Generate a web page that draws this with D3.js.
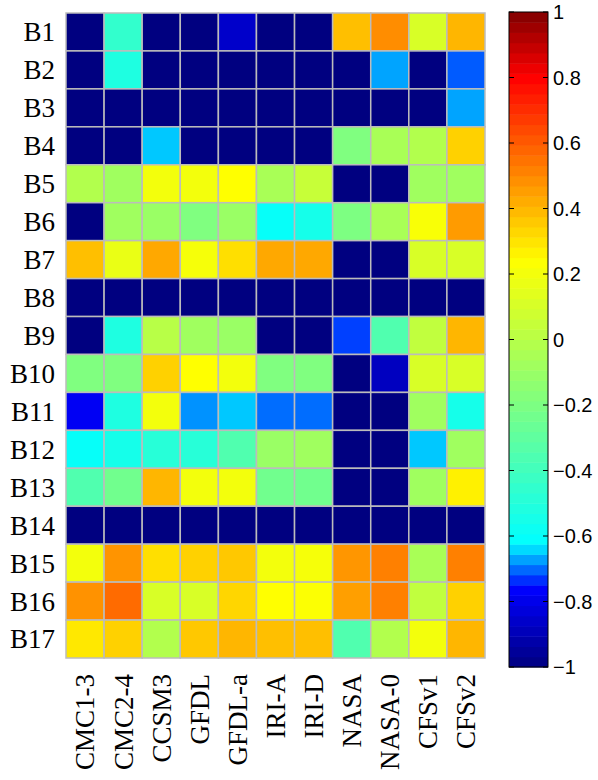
<!DOCTYPE html>
<html><head><meta charset="utf-8">
<script src="https://cdn.jsdelivr.net/npm/d3@7"></script>
<style>body{margin:0;background:#fff}svg{display:block}</style>
</head><body>
<svg id="chart" width="598" height="780"></svg>
<script>
const rowLabels = ["B1","B2","B3","B4","B5","B6","B7","B8","B9","B10","B11","B12","B13","B14","B15","B16","B17"];
const colLabels = ["CMC1-3","CMC2-4","CCSM3","GFDL","GFDL-a","IRI-A","IRI-D","NASA","NASA-0","CFSv1","CFSv2"];
// one array per row (B1..B17), values per model column
const B1  = [-1,-0.45,-1,-1,-0.86,-1,-1,0.38,0.49,0.11,0.40];
const B2  = [-1,-0.52,-1,-1,-1,-1,-1,-1,-0.67,-1,-0.71];
const B3  = [-1,-1,-1,-1,-1,-1,-1,-1,-1,-1,-0.67];
const B4  = [-1,-1,-0.65,-1,-1,-1,-1,-0.19,-0.05,-0.02,0.34];
const B5  = [-0.02,-0.08,0.20,0.20,0.24,-0.05,0.05,-1,-1,-0.08,-0.08];
const B6  = [-1,-0.08,-0.10,-0.19,-0.10,-0.60,-0.55,-0.20,-0.05,0.22,0.46];
const B7  = [0.38,0.17,0.43,0.21,0.31,0.43,0.43,-1,-1,0.11,0.11];
const B8  = [-1,-1,-1,-1,-1,-1,-1,-1,-1,-1,-1];
const B9  = [-1,-0.52,0.00,-0.08,-0.10,-1,-1,-0.725,-0.35,0.03,0.40];
const B10 = [-0.19,-0.19,0.34,0.24,0.20,-0.19,-0.19,-1,-0.88,0.11,0.11];
const B11 = [-0.78,-0.52,0.20,-0.68,-0.65,-0.70,-0.70,-1,-1,-0.08,-0.55];
const B12 = [-0.60,-0.55,-0.49,-0.49,-0.35,-0.10,-0.08,-1,-1,-0.65,-0.08];
const B13 = [-0.35,-0.24,0.40,0.20,0.20,-0.24,-0.24,-1,-1,-0.08,0.27];
const B14 = [-1,-1,-1,-1,-1,-1,-1,-1,-1,-1,-1];
const B15 = [0.20,0.475,0.31,0.34,0.36,0.20,0.21,0.47,0.52,-0.05,0.52];
const B16 = [0.48,0.565,0.11,0.11,0.33,0.24,0.23,0.45,0.52,0.03,0.34];
const B17 = [0.29,0.34,-0.02,0.36,0.40,0.38,0.38,-0.35,-0.02,0.20,0.40];
const rowsData = [B1,B2,B3,B4,B5,B6,B7,B8,B9,B10,B11,B12,B13,B14,B15,B16,B17];
const colorbarTicks = [-1,-0.8,-0.6,-0.4,-0.2,0,0.2,0.4,0.6,0.8,1];

const svg = d3.select("#chart");
const gx0 = 66, gx1 = 485, gy0 = 13, gy1 = 658;
const x = d3.scaleBand().domain(colLabels).range([gx0, gx1]);
const y = d3.scaleBand().domain(rowLabels).range([gy0, gy1]);

const color = d3.scaleLinear()
  .domain([-1,-0.76,-0.62,0.24,0.8,1])
  .range(["#000080","#0000ff","#00ffff","#ffff00","#ff0000","#800000"])
  .clamp(true);

const cells = [];
rowsData.forEach((row,i)=>row.forEach((v,j)=>cells.push({r:rowLabels[i],c:colLabels[j],v})));
svg.append("g").selectAll("rect").data(cells).join("rect")
  .attr("x",d=>x(d.c)).attr("y",d=>y(d.r))
  .attr("width",x.bandwidth()).attr("height",y.bandwidth())
  .attr("fill",d=>color(d.v))
  .attr("stroke","#bcbcbc").attr("stroke-width",1.5);

svg.append("g").selectAll("text").data(rowLabels).join("text")
  .attr("x",55).attr("y",d=>y(d)+y.bandwidth()/2).attr("dy","0.35em")
  .attr("text-anchor","end")
  .attr("font-family","'Liberation Serif','Times New Roman',serif")
  .attr("font-size",27).attr("fill","#000").text(d=>d);

svg.append("g").selectAll("text").data(colLabels).join("text")
  .attr("transform",d=>`translate(${x(d)+x.bandwidth()/2},674) rotate(-90)`)
  .attr("dy","0.35em").attr("text-anchor","end")
  .attr("font-family","'Liberation Serif','Times New Roman',serif")
  .attr("font-size",27).attr("fill","#000").text(d=>d);

// colorbar
const cbx0 = 509, cbx1 = 548;
const cy = d3.scaleLinear().domain([-1,1]).range([667,12]);
const nLev = 64;
const levels = d3.range(nLev).map(k=>-1 + k*2/nLev);
svg.append("g").selectAll("rect").data(levels).join("rect")
  .attr("x",cbx0).attr("width",cbx1-cbx0)
  .attr("y",d=>cy(d+2/nLev)).attr("height",d=>cy(d)-cy(d+2/nLev)+0.5)
  .attr("fill",d=>color(d+1/nLev));
svg.append("rect").attr("x",cbx0).attr("y",cy(1)).attr("width",cbx1-cbx0)
  .attr("height",cy(-1)-cy(1)).attr("fill","none").attr("stroke","#000").attr("stroke-width",1);
const tg = svg.append("g").selectAll("g").data(colorbarTicks).join("g");
tg.append("line").attr("x1",cbx0).attr("x2",cbx0+5).attr("y1",d=>cy(d)).attr("y2",d=>cy(d)).attr("stroke","#000");
tg.append("line").attr("x1",cbx1-5).attr("x2",cbx1).attr("y1",d=>cy(d)).attr("y2",d=>cy(d)).attr("stroke","#000");
tg.append("text").attr("x",553).attr("y",d=>cy(d)).attr("dy","0.36em")
  .attr("font-family","'Liberation Sans',Arial,sans-serif").attr("font-size",20).attr("fill","#000")
  .text(d=>d3.format("")(d).replace("-","\u2212"));
</script>
</body></html>
